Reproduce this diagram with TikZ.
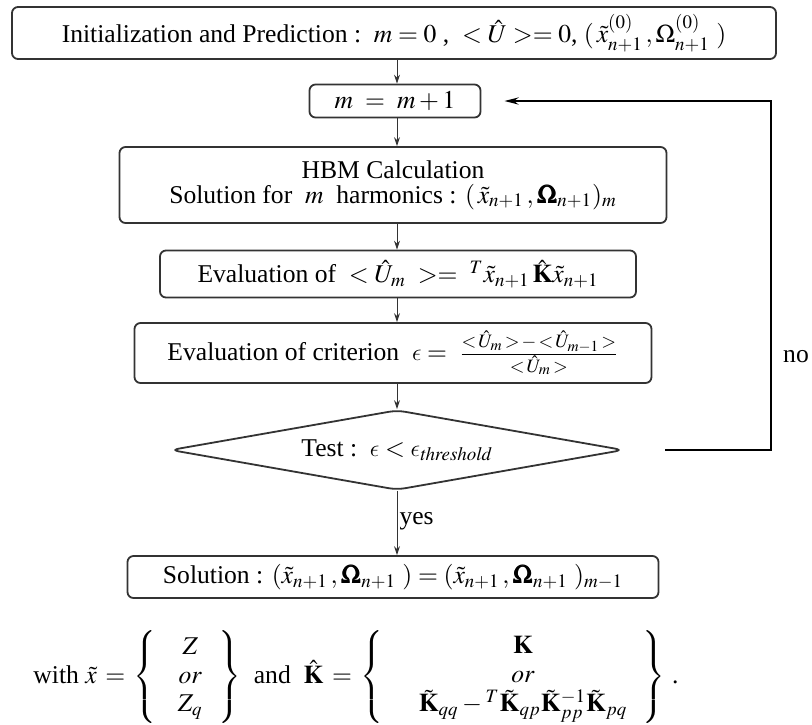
\documentclass[tikz,border=0pt]{standalone}
\usepackage{amsmath}
\usepackage{mathptmx}
\usepackage[no-math]{fontspec}
\setmainfont{Liberation Serif}
\usepackage{bm}
\DeclareSymbolFont{cmlet}{OML}{cmm}{m}{it}
\DeclareMathSymbol{\lep}{\mathord}{cmlet}{"0F}
\usetikzlibrary{shapes.geometric,arrows.meta}
\definecolor{boxc}{HTML}{333333}
\tikzset{
  every node/.style={font=\fontsize{12.8}{15.4}\selectfont},
  box/.style={draw=boxc, line width=0.9pt, rounded corners=3pt, inner sep=0pt, align=center},
  testbox/.style={draw=boxc, line width=0.9pt, diamond, aspect=5.66, rounded corners=4pt, inner sep=0pt},
  arr/.style={-{Stealth[length=4.5pt,width=3pt]}, line width=0.5pt, draw=boxc},
  looparr/.style={-{Stealth[length=7pt,width=3.5pt]}, line width=1.2pt, draw=black},
  lbl/.style={inner sep=1pt},
}
\begin{document}
\begin{tikzpicture}[x=0.5pt,y=-0.5pt]
\useasboundingbox (0,0) rectangle (812,724);
\node[box, minimum width=382pt, minimum height=26pt] (b1) at (394,33)
  {Initialization and Prediction :\ \ $m = 0$\ ,\ \ $<\hat{U}>=0$, $(\,\tilde{x}^{(0)}_{n+1}\,, \Omega^{(0)}_{n+1}\ )$};
\node[box, minimum width=85.5pt, minimum height=16.5pt] (b2) at (395,101) {$m\ =\ m+1$};
\node[box, minimum width=273.5pt, minimum height=38pt] (b3) at (393,185)
  {HBM Calculation\\[-3pt] Solution for\ \ $m$\ \ harmonics : $(\,\tilde{x}_{n+1}\,, \bm{\Omega}_{n+1})_m$};
\node[box, minimum width=238pt, minimum height=23.5pt] (b4) at (398,274)
  {Evaluation of\ \ $<\hat{U}_m\ >=\ {}^{T}\tilde{x}_{n+1}\,\hat{\mathbf{K}}\tilde{x}_{n+1}$};
\node[box, minimum width=258.5pt, minimum height=30pt] (b5) at (393,353)
  {Evaluation of criterion\ \ $\lep=\ \frac{<\,\hat{U}_m\,>\,-\,<\,\hat{U}_{m-1}\,>}{<\,\hat{U}_m\,>}$};
\node[testbox, minimum width=226.5pt, minimum height=40pt] (d) at (397,450)
  {Test :\ \ $\lep<\lep_{\mathit{threshold}}$};
\node[box, minimum width=265.5pt, minimum height=21pt] (b6) at (393,577)
  {Solution : $(\tilde{x}_{n+1}\,, \bm{\Omega}_{n+1}\ ) = (\tilde{x}_{n+1}\,, \bm{\Omega}_{n+1}\ )_{m-1}$};
\node (f) at (356,677)
  {with $\tilde{x}\,=\,\left\{\;\;\begin{array}{c} Z\\[-1pt] \mathit{or}\\[-1pt] Z_q\end{array}\;\right\}$\ \ and\ \
   $\hat{\mathbf{K}}\,=\,\left\{\quad\begin{array}{c}\mathbf{K}\\[-1pt] \mathit{or}\\[-1pt]
   \tilde{\mathbf{K}}_{qq}-{}^{T}\tilde{\mathbf{K}}_{qp}\tilde{\mathbf{K}}_{pp}^{-1}\tilde{\mathbf{K}}_{pq}\end{array}\;\right\}$\ .};
\coordinate (lx) at (771,103);
\draw[arr] (b1.south -| d) -- (b2.north -| d);
\draw[arr] (b2.south -| d) -- (b3.north -| d);
\draw[arr] (b3.south -| d) -- (b4.north -| d);
\draw[arr] (b4.south -| d) -- (b5.north -| d);
\draw[arr] (b5.south -| d) -- (d.north);
\draw[arr] (d.south) -- node[lbl, right, pos=0.47] {yes} (b6.north -| d);
\draw[looparr, shorten <=20.5pt, shorten >=11.5pt] (d.east) -- (d.east -| lx) |- (b2.east);
\node[lbl] (no) at (796,357) {no};
\end{tikzpicture}
\end{document}
